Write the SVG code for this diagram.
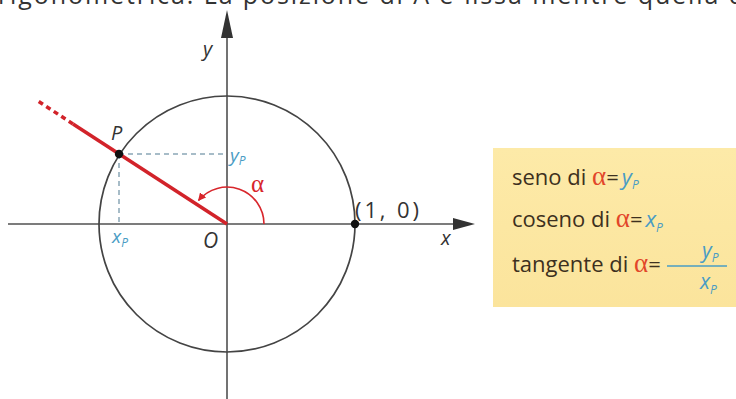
<svg xmlns="http://www.w3.org/2000/svg" width="736" height="399" viewBox="0 0 736 399">
<style>
.ax{stroke:#505050;stroke-width:1.6;fill:none}
.circ{stroke:#444;stroke-width:1.7;fill:none}
.lbl{font-family:"Open Sans","DejaVu Sans",sans-serif;font-style:italic;fill:#333}
.blue{font-family:"Open Sans","DejaVu Sans",sans-serif;font-style:italic;fill:#4a9cc4}
.alpha{font-family:"Liberation Serif","DejaVu Serif",serif;fill:#d8262c}
.box{font-family:"Open Sans","Lato",sans-serif;fill:#3d3020;font-size:22px}
.ba{font-family:"Liberation Serif","DejaVu Serif",serif;fill:#e2462a;font-size:27px;font-style:normal}
.bb{font-family:"Open Sans","DejaVu Sans",sans-serif;font-style:italic;fill:#4a9cc4}
.dash{stroke:#8aa6b6;stroke-width:1.5;stroke-dasharray:5 4;fill:none}
</style>
<defs>
<marker id="ah" viewBox="0 0 10 10" refX="9" refY="5" markerWidth="8" markerHeight="8" markerUnits="userSpaceOnUse" orient="auto">
<path d="M0 0 L10 5 L0 10 Z" fill="#d8262c"/>
</marker>
<linearGradient id="yg" x1="0" y1="0" x2="0" y2="1">
<stop offset="0" stop-color="#fdeaa8"/>
<stop offset="1" stop-color="#fbe49c"/>
</linearGradient>
</defs>
<rect width="736" height="399" fill="#fff"/>
<text x="-2" y="4" font-family="'Open Sans','DejaVu Sans',sans-serif" font-size="25" fill="#333" textLength="746" lengthAdjust="spacing">rigonometrica. La posizione di A è fissa mentre quella d</text>
<g id="connectors">
<line class="ax" x1="8" y1="224" x2="456" y2="224"/>
<path d="M475 224 L453 218 L453 230 Z" fill="#333"/>
<line class="ax" x1="227" y1="36" x2="227" y2="399"/>
<path d="M227 10 L221 38 L233 38 Z" fill="#333"/>
<circle class="circ" cx="227" cy="224" r="128"/>
<line class="dash" x1="119" y1="154" x2="227" y2="154"/>
<line class="dash" x1="119" y1="154" x2="119" y2="224"/>
<line x1="227" y1="224" x2="73" y2="124" stroke="#d2232a" stroke-width="3.5"/>
<line x1="73" y1="124" x2="38" y2="101" stroke="#d2232a" stroke-width="3.5" stroke-dasharray="5 4"/>
<path d="M264 224 A37 37 0 0 0 198.5 200.5" stroke="#d8262c" stroke-width="1.6" fill="none" marker-end="url(#ah)"/>
</g>
<g id="node-P"><circle cx="119" cy="154" r="4.2" fill="#111"/><text class="lbl" x="111" y="140" font-size="20">P</text></g>
<g id="node-10"><circle cx="355" cy="224" r="4.2" fill="#111"/><text x="355" y="218" font-family="'Open Sans','DejaVu Sans',sans-serif" font-size="22" fill="#333" textLength="64" lengthAdjust="spacing">(1, 0)</text></g>
<g id="node-O"><text class="lbl" x="203" y="248" font-size="21">O</text></g>
<g id="label-x"><text class="lbl" x="441" y="245" font-size="20">x</text></g>
<g id="label-y"><text class="lbl" x="203" y="56" font-size="20">y</text></g>
<g id="label-yP"><text class="blue" x="230" y="162" font-size="19">y<tspan font-size="12" dy="3">P</tspan></text></g>
<g id="label-xP"><text class="blue" x="112" y="243" font-size="19">x<tspan font-size="12" dy="4">P</tspan></text></g>
<g id="label-alpha"><text class="alpha" x="251" y="192" font-size="25">α</text></g>
<g id="box">
<rect x="493" y="148" width="243" height="159" fill="url(#yg)"/>
<text class="box" x="512" y="185">seno di <tspan class="ba">α</tspan>=<tspan class="bb" dx="3">y</tspan><tspan class="bb" font-size="12" dy="4">P</tspan></text>
<text class="box" x="512" y="227">coseno di <tspan class="ba">α</tspan>=<tspan class="bb" dx="3">x</tspan><tspan class="bb" font-size="12" dy="5">P</tspan></text>
<text class="box" x="512" y="272">tangente di <tspan class="ba">α</tspan>=</text>
<line x1="667" y1="266" x2="727" y2="266" stroke="#4a9cc4" stroke-width="1.4"/>
<text class="blue" x="702" y="258" font-size="21">y<tspan font-size="12" dy="4">P</tspan></text>
<text class="blue" x="700" y="289" font-size="21">x<tspan font-size="12" dy="5">P</tspan></text>
</g>
</svg>
